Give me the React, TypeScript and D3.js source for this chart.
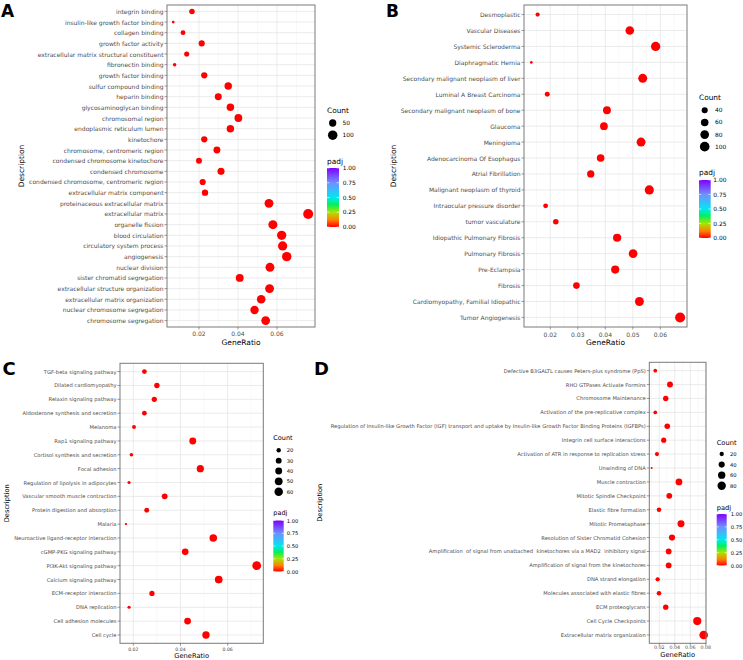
import React from 'react';
import * as d3 from 'd3';

const FONT = '"DejaVu Sans", Verdana, sans-serif';

// ---------- Panel A : GO enrichment ----------
const goTerms = [
  'integrin binding', 'insulin-like growth factor binding', 'collagen binding', 'growth factor activity',
  'extracellular matrix structural constituent', 'fibronectin binding', 'growth factor binding',
  'sulfur compound binding', 'heparin binding', 'glycosaminoglycan binding', 'chromosomal region',
  'endoplasmic reticulum lumen', 'kinetochore', 'chromosome, centromeric region',
  'condensed chromosome kinetochore', 'condensed chromosome', 'condensed chromosome, centromeric region',
  'extracellular matrix component', 'proteinaceous extracellular matrix', 'extracellular matrix',
  'organelle fission', 'blood circulation', 'circulatory system process', 'angiogenesis',
  'nuclear division', 'sister chromatid segregation', 'extracellular structure organization',
  'extracellular matrix organization', 'nuclear chromosome segregation', 'chromosome segregation',
];
const goRatio = [
  0.0164, 0.0068, 0.0118, 0.0214, 0.0137, 0.0075, 0.0227, 0.035, 0.0299, 0.0361, 0.0402, 0.0361,
  0.0227, 0.0292, 0.0200, 0.0313, 0.0219, 0.0231, 0.0559, 0.0760, 0.0579, 0.0624, 0.0629, 0.0650,
  0.0564, 0.0409, 0.0562, 0.0519, 0.0485, 0.0542,
];
const goCount = [
  25, 10, 18, 32, 21, 11, 34, 53, 45, 54, 60, 54, 34, 44, 30, 47, 33, 35, 84, 114, 87, 94, 94, 98,
  85, 61, 84, 78, 73, 81,
];
const goPadj = goTerms.map(() => 0.0001);
const goTicks = [0.02, 0.04, 0.06];
const goMinor = [0.01, 0.03, 0.05, 0.07];
const goCountBreaks = [50, 100];

// ---------- Panel B : DisGeNET ----------
const dgnTerms = [
  'Desmoplastic', 'Vascular Diseases', 'Systemic Scleroderma', 'Diaphragmatic Hernia',
  'Secondary malignant neoplasm of liver', 'Luminal A Breast Carcinoma',
  'Secondary malignant neoplasm of bone', 'Glaucoma', 'Meningioma', 'Adenocarcinoma Of Esophagus',
  'Atrial Fibrillation', 'Malignant neoplasm of thyroid', 'Intraocular pressure disorder',
  'tumor vasculature', 'Idiopathic Pulmonary Fibrosis', 'Pulmonary Fibrosis', 'Pre-Eclampsia',
  'Fibrosis', 'Cardiomyopathy, Familial Idiopathic', 'Tumor Angiogenesis',
];
const dgnRatio = [
  0.0154, 0.0489, 0.0583, 0.0131, 0.0536, 0.0189, 0.0406, 0.0395, 0.0530, 0.0383, 0.0347, 0.0560,
  0.0183, 0.0220, 0.0443, 0.0501, 0.0436, 0.0295, 0.0524, 0.0672,
];
const dgnCount = [25, 78, 93, 21, 86, 30, 65, 63, 85, 61, 56, 90, 29, 35, 71, 80, 70, 47, 84, 108];
const dgnPadj = dgnTerms.map(() => 0.0001);
const dgnTicks = [0.02, 0.03, 0.04, 0.05, 0.06];
const dgnMinor = [0.015, 0.025, 0.035, 0.045, 0.055, 0.065];
const dgnCountBreaks = [40, 60, 80, 100];

// ---------- Panel C : KEGG ----------
const keggTerms = [
  'TGF-beta signaling pathway', 'Dilated cardiomyopathy', 'Relaxin signaling pathway',
  'Aldosterone synthesis and secretion', 'Melanoma', 'Rap1 signaling pathway',
  'Cortisol synthesis and secretion', 'Focal adhesion', 'Regulation of lipolysis in adipocytes',
  'Vascular smooth muscle contraction', 'Protein digestion and absorption', 'Malaria',
  'Neuroactive ligand-receptor interaction', 'cGMP-PKG signaling pathway', 'PI3K-Akt signaling pathway',
  'Calcium signaling pathway', 'ECM-receptor interaction', 'DNA replication', 'Cell adhesion molecules',
  'Cell cycle',
];
const keggRatio = [
  0.0247, 0.0300, 0.0289, 0.0247, 0.0203, 0.0452, 0.0192, 0.0484, 0.0182, 0.0333, 0.0257, 0.0169,
  0.0539, 0.0420, 0.0723, 0.0562, 0.0279, 0.0182, 0.0430, 0.0508,
];
const keggCount = [22, 26, 25, 22, 18, 40, 17, 43, 16, 29, 23, 15, 47, 37, 64, 49, 25, 16, 38, 45];
const keggPadj = keggTerms.map(() => 0.0001);
const keggTicks = [0.02, 0.04, 0.06];
const keggMinor = [0.03, 0.05, 0.07];
const keggCountBreaks = [20, 30, 40, 50, 60];

// ---------- Panel D : Reactome ----------
const reacTerms = [
  'Defective B3GALTL causes Peters-plus syndrome (PpS)', 'RHO GTPases Activate Formins',
  'Chromosome Maintenance', 'Activation of the pre-replicative complex',
  'Regulation of Insulin-like Growth Factor (IGF) transport and uptake by Insulin-like Growth Factor Binding Proteins (IGFBPs)',
  'Integrin cell surface interactions', 'Activation of ATR in response to replication stress',
  'Unwinding of DNA', 'Muscle contraction', 'Mitotic Spindle Checkpoint', 'Elastic fibre formation',
  'Mitotic Prometaphase', 'Resolution of Sister Chromatid Cohesion',
  'Amplification  of signal from unattached  kinetochores via a MAD2  inhibitory signal',
  'Amplification of signal from the kinetochores', 'DNA strand elongation',
  'Molecules associated with elastic fibres', 'ECM proteoglycans', 'Cell Cycle Checkpoints',
  'Extracellular matrix organization',
];
const reacRatio = [
  0.0148, 0.0338, 0.0283, 0.0148, 0.0303, 0.0257, 0.0170, 0.0102, 0.0454, 0.0329, 0.0196, 0.0480,
  0.0364, 0.0321, 0.0321, 0.0179, 0.0196, 0.0283, 0.0690, 0.0773,
];
const reacCount = [16, 37, 31, 16, 33, 28, 19, 11, 50, 36, 22, 53, 40, 35, 35, 20, 22, 31, 76, 85];
const reacPadj = reacTerms.map(() => 0.0001);
const reacTicks = [0.02, 0.04, 0.06, 0.08];
const reacMinor = [0.01, 0.03, 0.05, 0.07];
const reacCountBreaks = [20, 40, 60, 80];

const padjBreaks = [0, 0.25, 0.5, 0.75, 1];
const padjStops = [0, 0.12, 0.25, 0.38, 0.5, 0.75, 1];
const padjColors = ['#FF0000', '#FF8000', '#A8E600', '#00F060', '#00E8F0', '#7090FF', '#8000FF'];

type Leg = {
  x: number; countTitleY: number; itemY0: number; itemDY: number; dotX: number; labelX: number;
  padjTitleY: number; barX: number; barW: number; barTop: number; barBottom: number; barLabelX: number;
};

type Cfg = {
  id: string; letter: string; letterX: number; letterY: number; letterSize: number;
  terms: string[]; ratio: number[]; count: number[]; padj: number[];
  ticks: number[]; minor: number[]; countBreaks: number[];
  domain: [number, number]; left: number; right: number; top: number; bottom: number;
  rMin: number; rMax: number;
  yFont: number; tickFont: number; titleFont: number; legTitleFont: number; legTextFont: number;
  yTitleX: number; tickLabelY: number; xTitleY: number;
  leg: Leg;
};

const fmt2 = (v: number) => v.toFixed(2);

function Panel({ c }: { c: Cfg }) {
  const x = d3.scaleLinear().domain(c.domain).range([c.left, c.right]);
  const y = d3.scalePoint<string>().domain(c.terms).range([c.top, c.bottom]).padding(0.6);
  const [cmin, cmax] = d3.extent(c.count) as [number, number];
  const rad = (v: number) =>
    c.rMin + (c.rMax - c.rMin) * Math.sqrt(Math.max(0, Math.min(1, (v - cmin) / (cmax - cmin))));
  const col = d3.scaleLinear<string>().domain(padjStops).range(padjColors).clamp(true);
  const barY = d3.scaleLinear().domain([0, 1]).range([c.leg.barBottom, c.leg.barTop]);
  const L = c.leg;
  const gid = `grad-${c.id}`;
  const midY = (c.top + c.bottom) / 2;
  return (
    <g>
      <defs>
        <linearGradient id={gid} x1="0" y1="1" x2="0" y2="0">
          {padjStops.map((s, i) => (
            <stop key={i} offset={s} stopColor={padjColors[i]} />
          ))}
        </linearGradient>
      </defs>
      <text x={c.letterX} y={c.letterY} fontSize={c.letterSize} fontWeight={900} fontFamily={FONT} fill="#000">
        {c.letter}
      </text>
      <rect x={c.left} y={c.top} width={c.right - c.left} height={c.bottom - c.top} fill="#fff" />
      {c.minor.map((v) => (
        <line key={'mn' + v} x1={x(v)} x2={x(v)} y1={c.top} y2={c.bottom} stroke="#F2F2F2" strokeWidth={0.5} />
      ))}
      {c.ticks.map((v) => (
        <line key={'mj' + v} x1={x(v)} x2={x(v)} y1={c.top} y2={c.bottom} stroke="#E6E6E6" strokeWidth={0.8} />
      ))}
      {c.terms.map((t) => (
        <line key={'h' + t} x1={c.left} x2={c.right} y1={y(t)} y2={y(t)} stroke="#E6E6E6" strokeWidth={0.8} />
      ))}
      {c.terms.map((t, i) => (
        <circle key={'p' + t} cx={x(c.ratio[i])} cy={y(t)} r={rad(c.count[i])} fill={col(c.padj[i])} />
      ))}
      <rect x={c.left} y={c.top} width={c.right - c.left} height={c.bottom - c.top} fill="none" stroke="#7a7a7a" strokeWidth={1} />
      {/* y axis */}
      {c.terms.map((t) => (
        <g key={'yl' + t}>
          <line x1={c.left - 2.5} x2={c.left} y1={y(t)} y2={y(t)} stroke="#555" strokeWidth={0.6} />
          <text x={c.left - 3.5} y={y(t)} textAnchor="end" dominantBaseline="central" fontSize={c.yFont}
            fontFamily={FONT} fill="#4D4D4D" style={{ whiteSpace: 'pre' }}>
            {t}
          </text>
        </g>
      ))}
      {/* x axis */}
      {c.ticks.map((v) => (
        <g key={'xl' + v}>
          <line x1={x(v)} x2={x(v)} y1={c.bottom} y2={c.bottom + 2.5} stroke="#555" strokeWidth={0.6} />
          <text x={x(v)} y={c.tickLabelY} textAnchor="middle" dominantBaseline="central" fontSize={c.tickFont}
            fontFamily={FONT} fill="#4D4D4D">
            {fmt2(v)}
          </text>
        </g>
      ))}
      <text x={(c.left + c.right) / 2} y={c.xTitleY} textAnchor="middle" dominantBaseline="central"
        fontSize={c.titleFont} fontFamily={FONT} fill="#000">GeneRatio</text>
      <text transform={`translate(${c.yTitleX},${midY}) rotate(-90)`} textAnchor="middle" dominantBaseline="central"
        fontSize={c.titleFont} fontFamily={FONT} fill="#000">Description</text>
      {/* Count legend */}
      <text x={L.x} y={L.countTitleY} dominantBaseline="central" fontSize={c.legTitleFont} fontFamily={FONT} fill="#000">Count</text>
      {c.countBreaks.map((b, i) => (
        <g key={'cb' + b}>
          <circle cx={L.dotX} cy={L.itemY0 + i * L.itemDY} r={rad(b)} fill="#000" />
          <text x={L.labelX} y={L.itemY0 + i * L.itemDY} dominantBaseline="central" fontSize={c.legTextFont}
            fontFamily={FONT} fill="#000">{b}</text>
        </g>
      ))}
      {/* padj legend */}
      <text x={L.x} y={L.padjTitleY} dominantBaseline="central" fontSize={c.legTitleFont} fontFamily={FONT} fill="#000">padj</text>
      <rect x={L.barX} y={L.barTop} width={L.barW} height={L.barBottom - L.barTop} fill={`url(#${gid})`} />
      {padjBreaks.map((b) => (
        <g key={'pb' + b}>
          <line x1={L.barX} x2={L.barX + L.barW * 0.2} y1={barY(b)} y2={barY(b)} stroke="#fff" strokeWidth={0.6} />
          <line x1={L.barX + L.barW * 0.8} x2={L.barX + L.barW} y1={barY(b)} y2={barY(b)} stroke="#fff" strokeWidth={0.6} />
          <text x={L.barLabelX} y={barY(b)} dominantBaseline="central" fontSize={c.legTextFont} fontFamily={FONT} fill="#000">
            {fmt2(b)}
          </text>
        </g>
      ))}
    </g>
  );
}

const panels: Cfg[] = [
  {
    id: 'a', letter: 'A', letterX: 1, letterY: 17, letterSize: 17,
    terms: goTerms, ratio: goRatio, count: goCount, padj: goPadj,
    ticks: goTicks, minor: goMinor, countBreaks: goCountBreaks,
    domain: [0.0036, 0.0795], left: 167, right: 315, top: 5, bottom: 327,
    rMin: 1.4, rMax: 5.0,
    yFont: 6, tickFont: 6, titleFont: 7.5, legTitleFont: 7.4, legTextFont: 5.9,
    yTitleX: 21.7, tickLabelY: 333.3, xTitleY: 342.5,
    leg: { x: 327, countTitleY: 110, itemY0: 123, itemDY: 12.2, dotX: 332.7, labelX: 342.5,
      padjTitleY: 161, barX: 327, barW: 12, barTop: 168, barBottom: 227, barLabelX: 342.7 },
  },
  {
    id: 'b', letter: 'B', letterX: 386, letterY: 17.3, letterSize: 17,
    terms: dgnTerms, ratio: dgnRatio, count: dgnCount, padj: dgnPadj,
    ticks: dgnTicks, minor: dgnMinor, countBreaks: dgnCountBreaks,
    domain: [0.01044, 0.0697], left: 524, right: 687, top: 5, bottom: 327,
    rMin: 1.3, rMax: 5.0,
    yFont: 6, tickFont: 6, titleFont: 7.5, legTitleFont: 7.4, legTextFont: 5.9,
    yTitleX: 393, tickLabelY: 334, xTitleY: 342.3,
    leg: { x: 699, countTitleY: 97.7, itemY0: 110.3, itemDY: 12.13, dotX: 704.7, labelX: 715,
      padjTitleY: 172.7, barX: 699, barW: 11.7, barTop: 180, barBottom: 238, barLabelX: 713.3 },
  },
  {
    id: 'c', letter: 'C', letterX: 2.5, letterY: 375, letterSize: 18,
    terms: keggTerms, ratio: keggRatio, count: keggCount, padj: keggPadj,
    ticks: keggTicks, minor: keggMinor, countBreaks: keggCountBreaks,
    domain: [0.01436, 0.0751], left: 120, right: 263.3, top: 363.3, bottom: 643.3,
    rMin: 1.15, rMax: 4.4,
    yFont: 5.2, tickFont: 4.6, titleFont: 6.7, legTitleFont: 6.5, legTextFont: 5.2,
    yTitleX: 7.3, tickLabelY: 649, xTitleY: 656,
    leg: { x: 273.3, countTitleY: 438.3, itemY0: 450.3, itemDY: 10.35, dotX: 278.7, labelX: 286.7,
      padjTitleY: 513.3, barX: 273.3, barW: 10.4, barTop: 520.5, barBottom: 571.5, barLabelX: 286.7 },
  },
  {
    id: 'd', letter: 'D', letterX: 314, letterY: 375, letterSize: 18,
    terms: reacTerms, ratio: reacRatio, count: reacCount, padj: reacPadj,
    ticks: reacTicks, minor: reacMinor, countBreaks: reacCountBreaks,
    domain: [0.0071, 0.0803], left: 649.3, right: 706, top: 362.3, bottom: 643.3,
    rMin: 1.0, rMax: 4.3,
    yFont: 5.2, tickFont: 4.8, titleFont: 6.7, legTitleFont: 6.7, legTextFont: 5.2,
    yTitleX: 320, tickLabelY: 647.7, xTitleY: 655,
    leg: { x: 716.7, countTitleY: 442.7, itemY0: 454, itemDY: 10.57, dotX: 721.7, labelX: 730,
      padjTitleY: 508.3, barX: 716.7, barW: 10, barTop: 514, barBottom: 565.5, barLabelX: 730.7 },
  },
];

export default function App() {
  return (
    <svg width={743} height={660} viewBox="0 0 743 660"
      style={{ position: 'absolute', left: 0, top: 0, background: '#fff', display: 'block' }}>
      <rect x={0} y={0} width={743} height={660} fill="#fff" />
      {panels.map((p) => (
        <Panel key={p.id} c={p} />
      ))}
    </svg>
  );
}
